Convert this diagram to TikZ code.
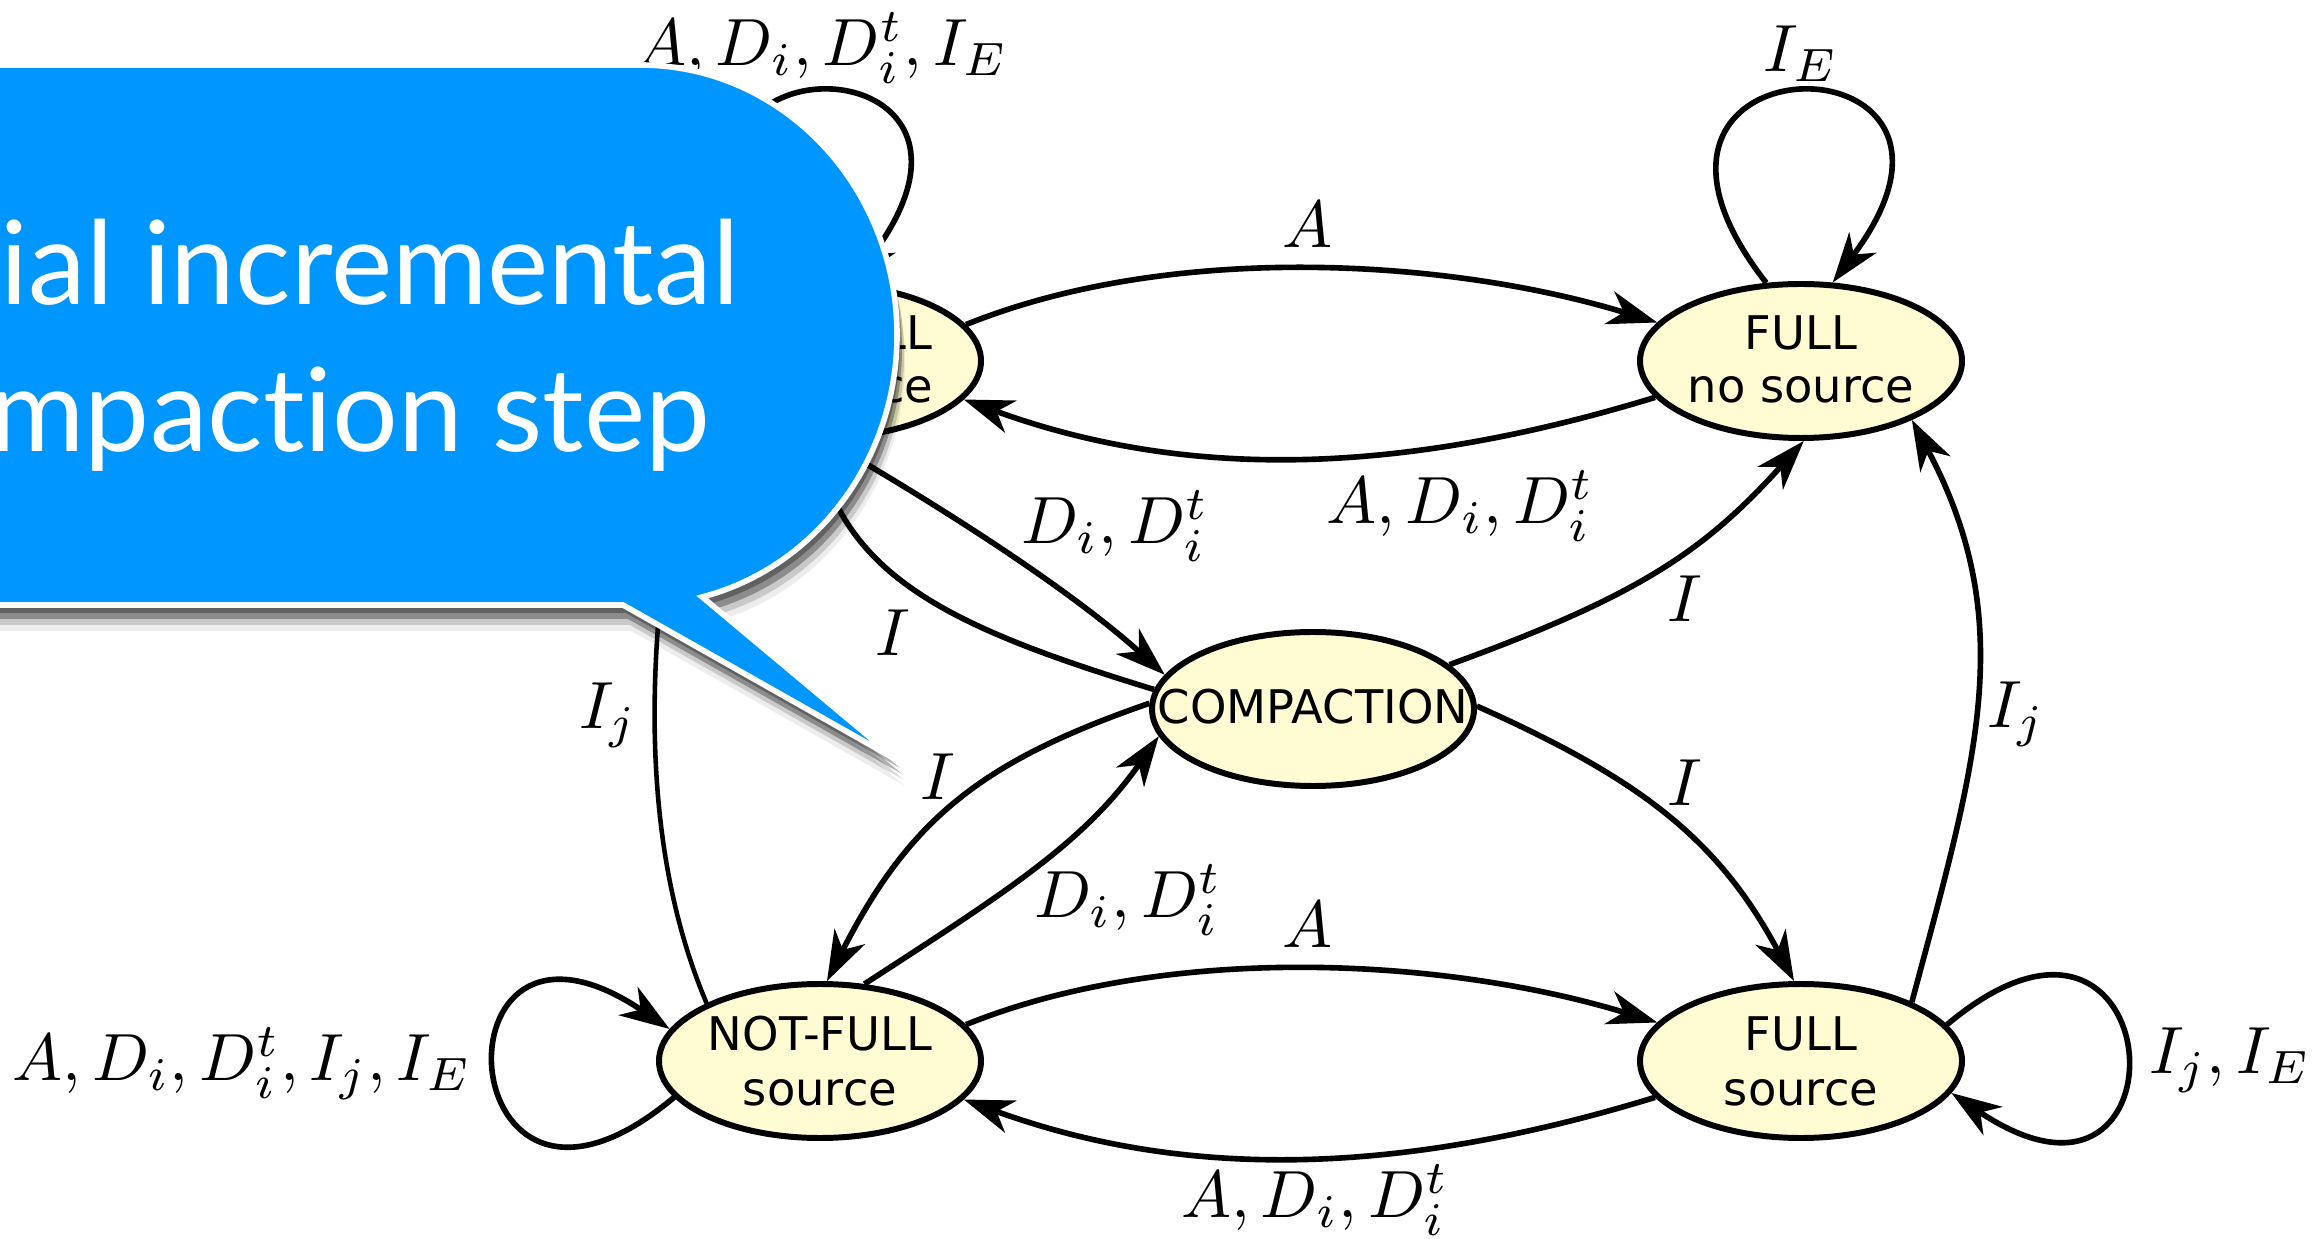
\documentclass[tikz,border=0pt]{standalone}
\usepackage{fontspec}
\usetikzlibrary{arrows.meta,shapes.geometric}
\newfontfamily\dvs{DejaVu Sans}
\newfontfamily\bfnt[Ligatures={NoCommon,NoDiscretionary,NoRare}]{Lato}
\definecolor{bblue}{RGB}{0,150,255}
\definecolor{nodefill}{RGB}{255,252,212}
\tikzset{
  st/.style={ellipse, draw, line width=1.7pt, fill=nodefill, minimum width=3.22cm, minimum height=1.54cm, inner sep=0pt},
  ntxt/.style={font=\dvs\fontsize{13.2}{15}\selectfont, inner sep=0pt, anchor=base},
  lbl/.style={scale=1.9, inner sep=0pt},
  edge/.style={line width=1.6pt, -{Stealth[length=5mm,width=3.4mm,inset=1.5mm]}},
  btxt/.style={font=\bfnt\fontsize{33}{40}\selectfont, text=white, inner sep=0pt, anchor=base east},
}
\begin{document}
\begin{tikzpicture}
\useasboundingbox (0,0) rectangle (23.24,12.38);
\clip (0,0) rectangle (23.24,12.38);
\fill[white] (0,0) rectangle (23.24,12.38);

% states
\node[st] (nfn)  at (8.20,8.77)  {};
\node[st] (fn)   at (18.01,8.77) {};
\node[st] (comp) at (13.13,5.29) {};
\node[st] (nfs)  at (8.20,1.77)  {};
\node[st] (fs)   at (18.01,1.77) {};

\node[ntxt] (nfn1) at ([yshift=0.11cm]nfn.center) {NOT-FULL};
\node[ntxt] (nfn2) at ([yshift=-0.42cm]nfn.center) {no source};
\node[ntxt] (fn1) at ([yshift=0.11cm]fn.center) {FULL};
\node[ntxt] (fn2) at ([yshift=-0.42cm]fn.center) {no source};
\node[ntxt] (comp1) at ([yshift=-0.15cm]comp.center) {COMPACTION};
\node[ntxt] (nfs1) at ([yshift=0.11cm]nfs.center) {NOT-FULL};
\node[ntxt] (nfs2) at ([yshift=-0.44cm]nfs.center) {source};
\node[ntxt] (fs1) at ([yshift=0.11cm]fs.center) {FULL};
\node[ntxt] (fs2) at ([yshift=-0.44cm]fs.center) {source};

% edges
\draw[edge] (nfn.14) .. controls +(22:2.2) and +(163:2.2) .. (fn.165);
\draw[edge] (fn.194) .. controls +(197:2.5) and +(-20:2.5) .. (nfn.-15);
\draw[edge] (nfs.14) .. controls +(22:2.2) and +(163:2.2) .. (fs.165);
\draw[edge] (fs.194) .. controls +(197:2.5) and +(-20:2.5) .. (nfs.-15);

\draw[edge] (fn.114) .. controls +(128:3.2) and +(53:3.2) .. (fn.68);
\draw[edge] (nfn.114) .. controls +(128:3.2) and +(53:3.2) .. (nfn.68);
\draw[edge] (fs.14) .. controls +(40:2.95) and +(-34:2.95) .. (fs.-12);
\draw[edge] (nfs.194) .. controls +(220:2.95) and +(146:2.95) .. (nfs.168);

\draw[edge] (nfn.-85) .. controls +(-30:1.5) and +(138:1.2) .. (comp.167);
\draw[edge] (comp.173) .. controls +(163:2.0) and +(-72:1.5) .. (nfn.-95);
\draw[edge] (comp.178) .. controls +(199:1.8) and +(63:1.8) .. (nfs.85);
\draw[edge] (nfs.60) .. controls +(33:1.7) and +(235:1.3) .. (comp.190);
\draw[edge] (comp.18) .. controls +(20:2.0) and +(-132:1.5) .. (fn.-88);
\draw[edge] (comp.1) .. controls +(-24:1.8) and +(118:1.6) .. (fs.95);
\draw[edge] (fs.28) .. controls +(75:2.5) and +(-62:2.3) .. (fn.-28);
\draw[edge, line width=1.3pt] (nfs.153) .. controls +(113:2.2) and +(-100:1.5) .. (nfn.200);

% labels
\node[lbl] (l1) at (13.08,10.13) {$A$};
\node[lbl] (l2) at (14.60,7.32) {$A, D_i, D_i^t$};
\node[lbl] (l3) at (8.22,11.90) {$A, D_i, D_i^t, I_E$};
\node[lbl] (l4) at (18.01,11.84) {$I_E$};
\node[lbl] (l5) at (11.15,7.12) {$D_i, D_i^t$};
\node[lbl] (l6) at (8.93,6.05) {$I$};
\node[lbl] (l7) at (6.08,5.23) {$I_j$};
\node[lbl] (l8) at (9.38,4.61) {$I$};
\node[lbl] (l9) at (11.28,3.38) {$D_i, D_i^t$};
\node[lbl] (l10) at (16.85,6.39) {$I$};
\node[lbl] (l11) at (16.85,4.55) {$I$};
\node[lbl] (l12) at (20.16,5.24) {$I_j$};
\node[lbl] (l13) at (13.08,3.13) {$A$};
\node[lbl] (l14) at (13.15,0.38) {$A, D_i, D_i^t$};
\node[lbl] (l15) at (22.30,1.78) {$I_j, I_E$};
\node[lbl] (l16) at (2.42,1.74) {$A, D_i, D_i^t, I_j, I_E$};

% speech bubble shadow
\foreach \dx/\dy/\op in {0.03/-0.08/0.3, 0.05/-0.14/0.3, 0.07/-0.20/0.15, 0.08/-0.26/0.07}{
  \fill[black, opacity=\op, shift={(\dx,\dy)}]
    (-0.5,11.73) -- (6.40,11.73) arc[start angle=90, end angle=-76, x radius=2.57, y radius=2.70]
    -- (8.97,4.78) -- (6.23,6.33) -- (-0.5,6.33) -- cycle;
}
% speech bubble
\filldraw[fill=bblue, draw=white, line width=1.6pt]
    (-0.5,11.73) -- (6.40,11.73) arc[start angle=90, end angle=-76, x radius=2.57, y radius=2.70]
    -- (8.97,4.78) -- (6.23,6.33) -- (-0.5,6.33) -- cycle;
\node[btxt] (b1) at (7.40,9.33) {ial incremental};
\node[btxt] (b2) at (7.11,7.86) {mpaction step};
\end{tikzpicture}
\end{document}
